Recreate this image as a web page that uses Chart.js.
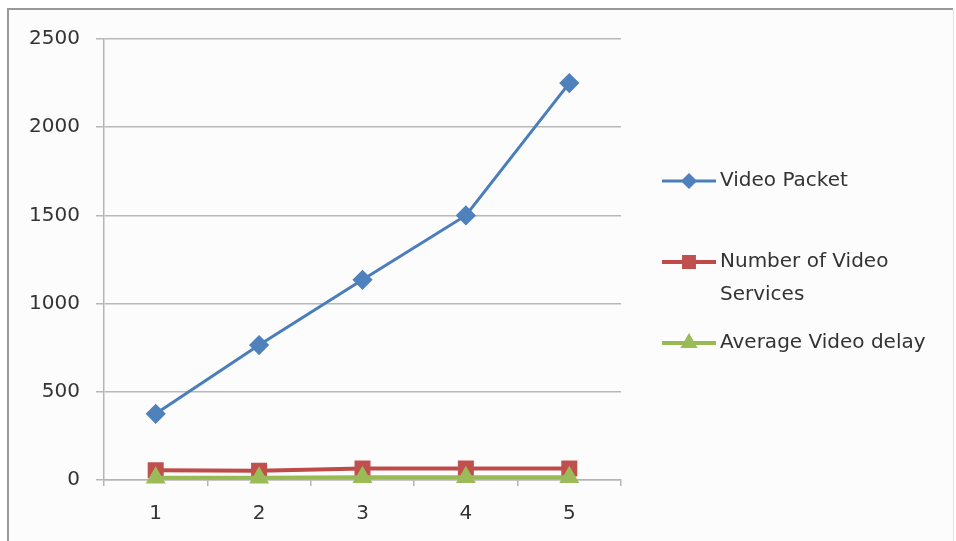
<!DOCTYPE html>
<html>
<head>
<meta charset="utf-8">
<script src="https://cdn.jsdelivr.net/npm/chart.js@4/dist/chart.umd.min.js"></script>
<style>
  html, body { margin: 0; padding: 0; background: #ffffff; }
  #wrap { width: 956px; height: 541px; position: relative; }
</style>
</head>
<body>
<div id="wrap"><canvas id="c" width="956" height="541"></canvas></div>
<script>
// Simulation runs
const categories = ['1', '2', '3', '4', '5'];

// Series values
const videoPacket = [375, 765, 1135, 1500, 2250];
const videoServices = [55, 52, 65, 65, 65];
const videoDelay = [13, 13, 15, 15, 15];

// Value axis
const yTicks = [0, 500, 1000, 1500, 2000, 2500];

const seriesNames = ['Video Packet', ['Number of Video', 'Services'], 'Average Video delay'];

const FONT = 'DejaVu Sans';
const TEXT = '#333333';

// Outer frame around the chart
const framePlugin = {
  id: 'frame',
  beforeDraw(chart) {
    const ctx = chart.ctx;
    ctx.save();
    ctx.fillStyle = '#ffffff';
    ctx.fillRect(0, 0, chart.width, chart.height);
    ctx.fillStyle = '#fcfcfc';
    ctx.fillRect(9, 10, 944, 540);
    ctx.strokeStyle = '#9a9a9a';
    ctx.lineWidth = 2;
    ctx.beginPath();
    ctx.moveTo(8, 560);
    ctx.lineTo(8, 9);
    ctx.lineTo(953, 9);
    ctx.stroke();
    ctx.strokeStyle = '#e2e2e2';
    ctx.lineWidth = 1;
    ctx.beginPath();
    ctx.moveTo(953.5, 10);
    ctx.lineTo(953.5, 560);
    ctx.stroke();
    ctx.restore();
  }
};

// Legend on the right, with wrapped labels
const sideLegend = {
  id: 'sideLegend',
  afterDraw(chart) {
    const ctx = chart.ctx;
    const rows = [181, 262, 343];
    ctx.save();
    chart.data.datasets.forEach((ds, i) => {
      const y = rows[i];
      ctx.strokeStyle = ds.borderColor;
      ctx.lineWidth = ds.borderWidth;
      ctx.beginPath();
      ctx.moveTo(662, y);
      ctx.lineTo(716, y);
      ctx.stroke();
      ctx.fillStyle = ds.pointBackgroundColor;
      ctx.strokeStyle = ds.pointBorderColor;
      Chart.helpers.drawPoint(ctx, {
        pointStyle: ds.pointStyle,
        radius: ds.legendRadius,
        borderWidth: 1
      }, 689, y);
      ctx.fillStyle = TEXT;
      ctx.font = '20px "' + FONT + '"';
      ctx.textBaseline = 'middle';
      ctx.textAlign = 'left';
      const lines = Array.isArray(seriesNames[i]) ? seriesNames[i] : [seriesNames[i]];
      lines.forEach((t, k) => ctx.fillText(t, 720, y + k * 33));
    });
    ctx.restore();
  }
};

new Chart(document.getElementById('c'), {
  type: 'line',
  data: {
    labels: categories,
    datasets: [
      {
        label: 'Video Packet',
        data: videoPacket,
        order: 0,
        borderColor: '#4a7ebb',
        borderWidth: 3,
        pointStyle: 'rectRot',
        pointRadius: 8,
        legendRadius: 6,
        pointBackgroundColor: '#4f81bd',
        pointBorderColor: '#4f81bd',
        clip: false,
        tension: 0
      },
      {
        label: 'Number of Video Services',
        data: videoServices,
        order: 2,
        borderColor: '#be4b48',
        borderWidth: 4,
        pointStyle: 'rect',
        pointRadius: 8.5,
        legendRadius: 7,
        pointBackgroundColor: '#c0504d',
        pointBorderColor: '#c0504d',
        clip: false,
        tension: 0
      },
      {
        label: 'Average Video delay',
        data: videoDelay,
        order: 1,
        borderColor: '#98b954',
        borderWidth: 4,
        pointStyle: 'triangle',
        pointRadius: 7.5,
        legendRadius: 6,
        pointBackgroundColor: '#9bbb59',
        pointBorderColor: '#9bbb59',
        clip: false,
        tension: 0
      }
    ]
  },
  options: {
    responsive: false,
    animation: false,
    devicePixelRatio: 1,
    layout: { padding: { left: 0, right: 335, top: 39, bottom: 0 } },
    plugins: {
      legend: { display: false },
      tooltip: { enabled: false }
    },
    scales: {
      x: {
        offset: true,
        afterFit(scale) { scale.height = 61; },
        grid: {
          offset: true,
          drawOnChartArea: false,
          drawTicks: true,
          tickLength: 6,
          color: '#b5b5b5',
          lineWidth: 1.5
        },
        border: { display: true, color: '#b5b5b5', width: 1.5 },
        ticks: {
          color: TEXT,
          padding: 16,
          font: { family: FONT, size: 20 }
        }
      },
      y: {
        min: 0,
        max: 2500,
        afterFit(scale) { scale.width = 104; },
        afterBuildTicks(scale) { scale.ticks = yTicks.map(v => ({ value: v })); },
        grid: {
          color: '#b8b8b8',
          lineWidth: 1.5,
          drawTicks: true,
          tickLength: 8
        },
        border: { display: true, color: '#b5b5b5', width: 1.5 },
        ticks: {
          color: TEXT,
          padding: 16,
          font: { family: FONT, size: 20 },
          callback: (v) => String(v)
        }
      }
    }
  },
  plugins: [framePlugin, sideLegend]
});
</script>
</body>
</html>
